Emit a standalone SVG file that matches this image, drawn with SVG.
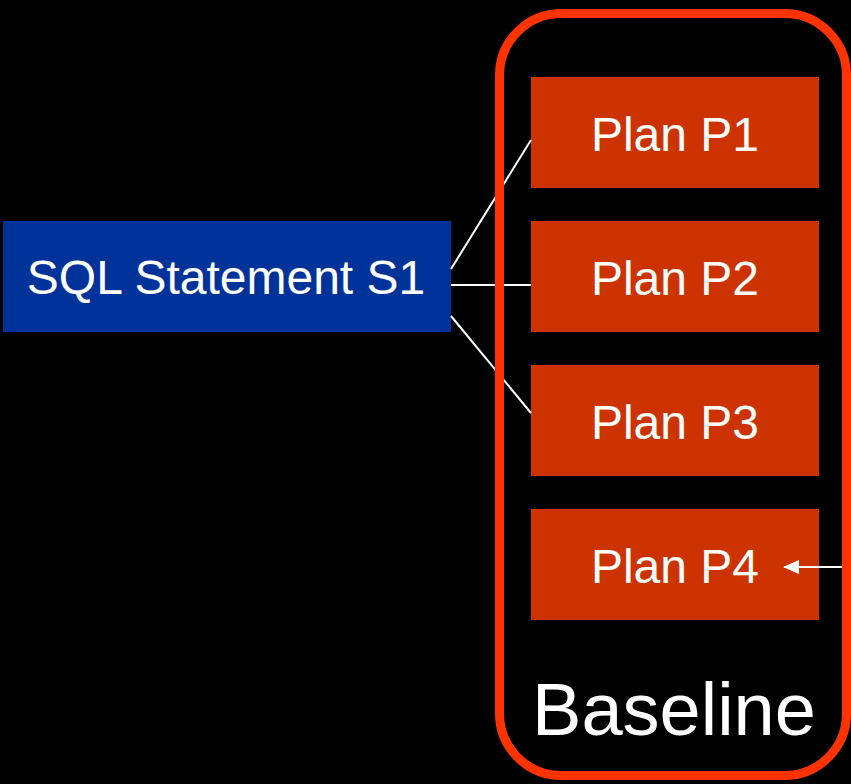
<svg xmlns="http://www.w3.org/2000/svg" width="851" height="784" viewBox="0 0 851 784">
<style>
.plan{fill:#CC3300}
.t{fill:#fff;font-family:"Liberation Sans",Arial,sans-serif;font-size:48px;text-anchor:middle}
.c{stroke:#fff;stroke-width:2;fill:none}
</style>
<defs>
<marker id="ah" markerWidth="16" markerHeight="14" refX="15" refY="7" orient="auto" markerUnits="userSpaceOnUse">
<path d="M0,0 L16,7 L0,14 Z" fill="#fff"/>
</marker>
</defs>
<rect width="851" height="784" fill="#000"/>
<g id="s1">
<rect x="3" y="221" width="448" height="111" fill="#003399"/>
<text x="226" y="294" class="t">SQL Statement S1</text>
</g>
<g id="p1">
<rect class="plan" x="531" y="77" width="288" height="111"/>
<text x="675" y="151" class="t">Plan P1</text>
</g>
<g id="p2">
<rect class="plan" x="531" y="221" width="288" height="111"/>
<text x="675" y="295" class="t">Plan P2</text>
</g>
<g id="p3">
<rect class="plan" x="531" y="365" width="288" height="111"/>
<text x="675" y="439" class="t">Plan P3</text>
</g>
<g id="p4">
<rect class="plan" x="531" y="509" width="288" height="111"/>
<text x="675" y="583" class="t">Plan P4</text>
</g>
<g id="connectors">
<line class="c" x1="451" y1="269" x2="531" y2="140"/>
<line class="c" x1="451" y1="285" x2="531" y2="285"/>
<line class="c" x1="451" y1="316" x2="531" y2="413"/>
<line class="c" x1="851" y1="567" x2="784" y2="567" marker-end="url(#ah)"/>
</g>
<g id="baseline">
<rect x="499.5" y="13.5" width="347" height="762" rx="62" ry="62" fill="none" stroke="#FF3300" stroke-width="9"/>
<text x="674" y="735" class="t" style="font-size:74px">Baseline</text>
</g>
</svg>
